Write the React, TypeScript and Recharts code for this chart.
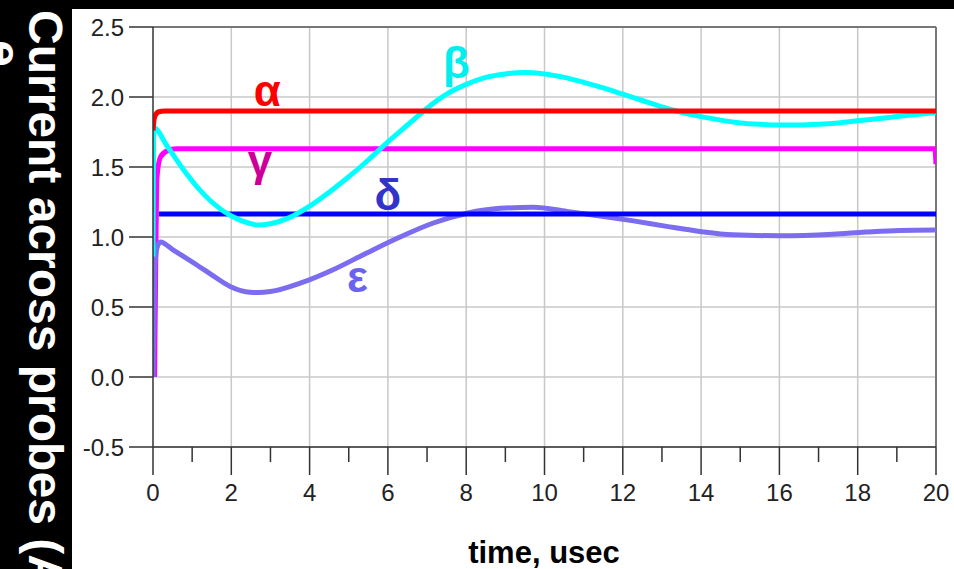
import React from "react";
import {
  LineChart,
  Line,
  XAxis,
  YAxis,
  CartesianGrid,
  ReferenceLine,
  ReferenceDot,
} from "recharts";

// ---- data (time in usec, current in A) ----
const alphaT = [0, 0.02, 0.06, 0.15, 0.3, 20];
const alphaV = [1.76, 1.82, 1.87, 1.895, 1.9, 1.9];

const gammaT = [0.04, 0.07, 0.1, 0.19, 0.36, 0.6, 19.97, 20];
const gammaV = [0, 0.8, 1.42, 1.57, 1.615, 1.63, 1.63, 1.52];

const deltaT = [0.15, 20];
const deltaV = [1.165, 1.165];

const betaT = [0, 0.02, 0.36, 0.78, 1.12, 1.5, 2.0, 2.5, 2.7, 3.0, 3.5, 4.0, 4.5, 5.0, 5.5, 6.0, 6.5, 7.0, 7.5, 8.0, 8.5, 9.0, 9.5, 10.0, 10.5, 11.0, 11.5, 12.0, 12.5, 13.0, 13.5, 14.0, 14.5, 15.0, 15.5, 16.0, 16.5, 17.0, 17.5, 18.0, 18.5, 19.0, 19.5, 20];
const betaV = [0.86, 1.78, 1.65, 1.48, 1.36, 1.25, 1.15, 1.095, 1.085, 1.095, 1.14, 1.22, 1.32, 1.43, 1.55, 1.68, 1.8, 1.92, 2.02, 2.09, 2.14, 2.165, 2.175, 2.165, 2.14, 2.105, 2.065, 2.02, 1.975, 1.93, 1.89, 1.86, 1.835, 1.815, 1.805, 1.8, 1.8, 1.805, 1.815, 1.83, 1.845, 1.86, 1.875, 1.89];

const epsT = [0, 0.02, 0.05, 0.1, 0.19, 0.5, 1.12, 1.5, 1.97, 2.48, 2.69, 3.0, 3.76, 4.6, 5.46, 6.31, 7.16, 8.02, 8.87, 9.72, 10.57, 11.42, 12.27, 13.12, 13.97, 14.8, 16.0, 17.36, 18.2, 19.07, 20];
const epsV = [0, 0.3, 0.8, 0.92, 0.965, 0.91, 0.8, 0.73, 0.647, 0.605, 0.603, 0.61, 0.67, 0.766, 0.886, 1.0, 1.1, 1.17, 1.205, 1.212, 1.183, 1.15, 1.115, 1.076, 1.04, 1.016, 1.009, 1.02, 1.035, 1.047, 1.05];

const xTicks = [0, 1, 2, 3, 4, 5, 6, 7, 8, 9, 10, 11, 12, 13, 14, 15, 16, 17, 18, 19, 20];
const xGrid = [2, 4, 6, 8, 10, 12, 14, 16, 18];
const yTicks = [-0.5, 0, 0.5, 1, 1.5, 2, 2.5];
const yTickLabels = ["-0.5", "0.0", "0.5", "1.0", "1.5", "2.0", "2.5"];

// annotation labels: [text, t, value(baseline), color]
const seriesLabels: [string, number, number, string][] = [
  ["α", 2.92, 1.938, "#ff0000"],
  ["β", 7.75, 2.138, "#00eeee"],
  ["γ", 2.73, 1.438, "#cc0099"],
  ["δ", 6.0, 1.195, "#3333cc"],
  ["ε", 5.22, 0.61, "#6b63ee"],
];

const toData = (t: number[], v: number[]) => t.map((tt, i) => ({ t: tt, v: v[i] }));

const alphaData = toData(alphaT, alphaV);
const betaData = toData(betaT, betaV);
const gammaData = toData(gammaT, gammaV);
const deltaData = toData(deltaT, deltaV);
const epsData = toData(epsT, epsV);

const FONT = "'Liberation Sans', Arial, sans-serif";

const XTick = (props: any) => {
  const { x, y, payload } = props;
  const v = payload.value;
  const major = v % 2 === 0;
  return (
    <g>
      <line x1={x} x2={x} y1={y} y2={y + (major ? 28 : 15)} stroke="#333" strokeWidth={1.5} />
      {major && (
        <text x={x} y={y + 54} textAnchor="middle" fontSize={24} fill="#222" fontFamily={FONT}>
          {String(v)}
        </text>
      )}
    </g>
  );
};

const YTick = (props: any) => {
  const { x, y, payload } = props;
  const idx = yTicks.indexOf(payload.value);
  return (
    <text x={x} y={y} dy="0.36em" textAnchor="end" fontSize={24} fill="#222" fontFamily={FONT}>
      {idx >= 0 ? yTickLabels[idx] : String(payload.value)}
    </text>
  );
};

const GreekLabel = (text: string, color: string) => (props: any) => {
  const { cx, cy } = props;
  return (
    <text x={cx} y={cy} textAnchor="middle" fontSize={44} fontWeight="bold" fill={color} fontFamily={FONT}>
      {text}
    </text>
  );
};

export default function App() {
  return (
    <div style={{ position: "absolute", left: 0, top: 0, width: 954, height: 569, background: "#000", overflow: "hidden" }}>
      <div style={{ position: "absolute", left: 72, top: 9, width: 882, height: 560, background: "#fff" }} />
      <div style={{ position: "absolute", left: 0, top: 0 }}>
        <LineChart width={954} height={569} margin={{ top: 27, right: 18, left: 72, bottom: 62 }}>
          <CartesianGrid stroke="#c8c8c8" strokeWidth={1.5} verticalValues={xGrid} horizontalValues={yTicks} />
          <XAxis
            dataKey="t"
            type="number"
            domain={[0, 20]}
            ticks={xTicks}
            interval={0}
            height={60}
            tickSize={0}
            tickMargin={0}
            tickLine={false}
            tick={<XTick />}
            axisLine={{ stroke: "#333", strokeWidth: 1.5 }}
            allowDataOverflow
          />
          <YAxis
            type="number"
            domain={[-0.5, 2.5]}
            ticks={yTicks}
            interval={0}
            width={81}
            tickSize={24}
            tickMargin={5}
            tickLine={{ stroke: "#333", strokeWidth: 1.5 }}
            axisLine={{ stroke: "#333", strokeWidth: 1.5 }}
            tick={<YTick />}
            allowDataOverflow
          />
          <ReferenceLine y={2.5} stroke="#777" strokeWidth={2} />
          <ReferenceLine x={20} stroke="#777" strokeWidth={2} />
          <Line data={gammaData} dataKey="v" type="monotone" stroke="#ff00ff" strokeWidth={5} dot={false} isAnimationActive={false} />
          <Line data={epsData} dataKey="v" type="monotone" stroke="#7b6cf0" strokeWidth={5} dot={false} isAnimationActive={false} />
          <Line data={deltaData} dataKey="v" type="linear" stroke="#0000ff" strokeWidth={5} dot={false} isAnimationActive={false} />
          <Line data={betaData} dataKey="v" type="monotone" stroke="#00ffff" strokeWidth={5} dot={false} isAnimationActive={false} />
          <Line data={alphaData} dataKey="v" type="monotone" stroke="#ff0000" strokeWidth={5} dot={false} isAnimationActive={false} />
          {seriesLabels.map(([txt, t, v, c]) => (
            <ReferenceDot key={txt} x={t} y={v} r={0} shape={GreekLabel(txt, c)} />
          ))}
        </LineChart>
      </div>
      <svg width={954} height={569} style={{ position: "absolute", left: 0, top: 0, pointerEvents: "none" }}>
        <text transform="translate(29,10) rotate(90)" fontSize={48} fontWeight="bold" fill="#fff" fontFamily={FONT}>
          Current across probes (A)
        </text>
        <text transform="translate(-13,40) rotate(90)" fontSize={48} fontWeight="bold" fill="#fff" fontFamily={FONT}>
          e
        </text>
        <text x={544} y={563} textAnchor="middle" fontSize={31} fontWeight="bold" fill="#000" fontFamily={FONT}>
          time, usec
        </text>
      </svg>
    </div>
  );
}
